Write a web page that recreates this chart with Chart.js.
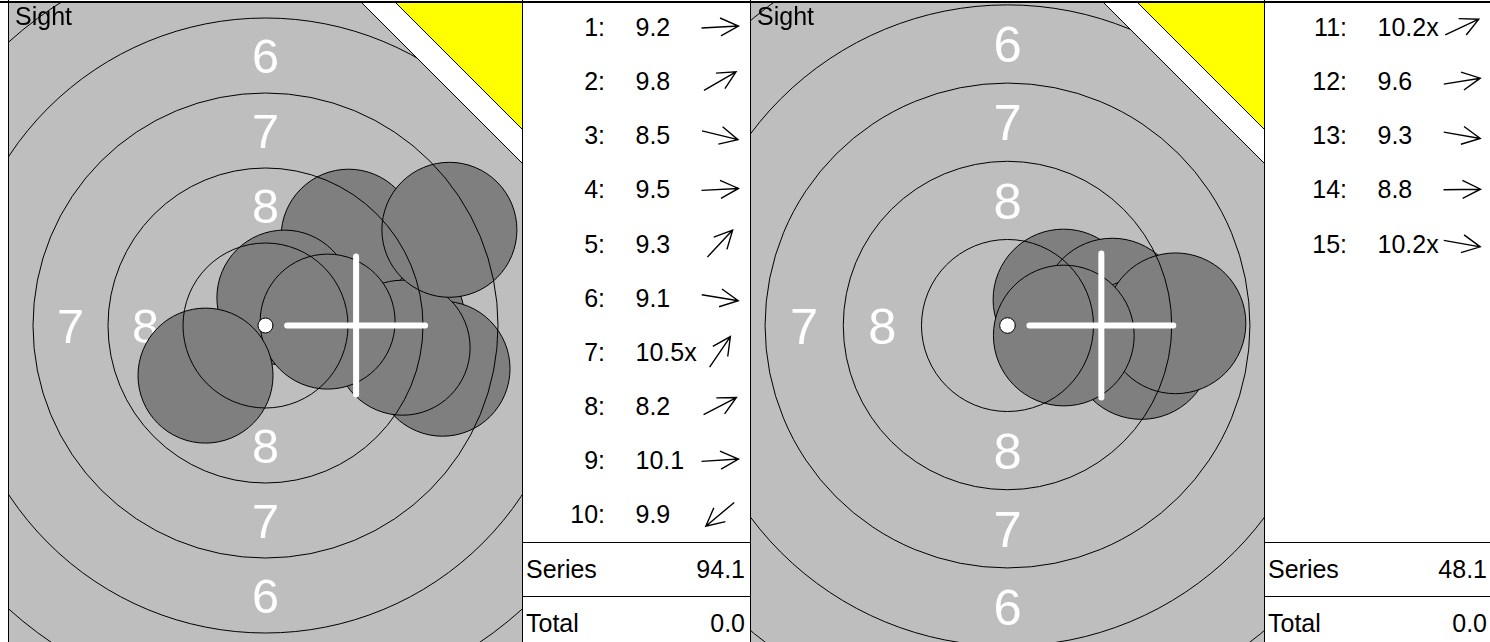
<!DOCTYPE html>
<html>
<head>
<meta charset="utf-8">
<title>Sight series</title>
<script src="https://cdn.jsdelivr.net/npm/chart.js@4.4.1/dist/chart.umd.min.js"></script>
<style>
html, body { margin: 0; padding: 0; width: 1490px; height: 642px; overflow: hidden; background: #fff; }
body { position: relative; font-family: "Liberation Sans", Arial, Helvetica, sans-serif; }
canvas, svg, .line { position: absolute; }
.line { background: #000; }
svg text { font-family: "Liberation Sans", Arial, Helvetica, sans-serif; font-size: 25px; fill: #000; }
</style>
</head>
<body>
<div class="line" style="left:0;top:1px;width:1490px;height:2px"></div>
<div class="line" style="left:8px;top:0;width:1px;height:642px"></div>
<canvas id="target1" style="left:9px;top:3px" width="513" height="645"></canvas>
<div class="line" style="left:522px;top:0;width:1px;height:642px"></div>
<svg id="list1" style="left:523px;top:0" width="227" height="642"></svg>
<div class="line" style="left:750px;top:0;width:1px;height:642px"></div>
<canvas id="target2" style="left:751px;top:3px" width="513" height="645"></canvas>
<div class="line" style="left:1264px;top:0;width:1px;height:642px"></div>
<svg id="list2" style="left:1265px;top:0" width="225" height="642"></svg>

<script>
// target geometry in mm (10 m air rifle face)
const ringRadii = [2.75, 5.25, 7.75, 10.25, 12.75, 15.25];
const ringLabels = [8, 7, 6];
const tenRadius = 0.25;
const pelletRadius = 2.25;
const crossArm = 2.3;

// first series: shots 1-10 (x/y in mm from centre, y up)
const shotNo1 = [1, 2, 3, 4, 5, 6, 7, 8, 9, 10];
const scores1 = ['9.2', '9.8', '8.5', '9.5', '9.3', '9.1', '10.5x', '8.2', '10.1', '9.9'];
const shotX1 = [4.39, 2.51, 5.90, 3.60, 2.77, 4.57, 0.63, 6.13, 2.07, -2.00];
const shotY1 = [0.23, 1.45, -1.44, 0.19, 2.96, -0.74, 0.93, 3.19, 0.13, -1.67];
const sight1 = [3.02, 0];
const total1 = '0.0';

// second series: shots 11-15
const shotNo2 = [11, 12, 13, 14, 15];
const scores2 = ['10.2x', '9.6', '9.3', '8.8', '10.2x'];
const shotX2 = [1.79, 3.35, 4.28, 5.37, 1.80];
const shotY2 = [0.83, 0.54, -0.75, 0.07, -0.32];
const sight2 = [3.0, 0];
const total2 = '0.0';

// half width of the visible face, mm
const view1 = 8.55;
const view2 = 8.2;

const FONT = '"Liberation Sans", Arial, Helvetica, sans-serif';

function mmPx(chart, mm) {
    const s = chart.scales.x;
    return Math.abs(s.getPixelForValue(mm) - s.getPixelForValue(0));
}

const targetFace = {
    id: 'targetFace',
    beforeDatasetsDraw(chart) {
        const { ctx, chartArea: a, scales: { x, y } } = chart;
        ctx.save();
        ctx.fillStyle = 'rgb(190,190,190)';
        ctx.fillRect(a.left, a.top, a.width, a.height);
        ctx.beginPath();
        ctx.rect(a.left, a.top, a.width, a.height);
        ctx.clip();
        const fs = mmPx(chart, 1.62);
        ctx.font = fs + 'px ' + FONT;
        ctx.fillStyle = '#fff';
        ctx.textAlign = 'center';
        ctx.textBaseline = 'alphabetic';
        ringLabels.forEach((n, i) => {
            const r = (ringRadii[i] + ringRadii[i + 1]) / 2;
            [[0, r], [0, -r], [-r, 0], [r, 0]].forEach(([dx, dy]) => {
                ctx.fillText(String(n), x.getPixelForValue(dx), y.getPixelForValue(dy) + fs * 0.358);
            });
        });
        ctx.restore();
    },
    afterDatasetsDraw(chart, args, opts) {
        const { ctx, chartArea: a, scales: { x, y } } = chart;
        const cx = x.getPixelForValue(0), cy = y.getPixelForValue(0);
        ctx.save();
        ctx.beginPath();
        ctx.rect(a.left, a.top, a.width, a.height);
        ctx.clip();

        ctx.strokeStyle = '#000';
        ctx.lineWidth = 1;
        ringRadii.forEach(r => {
            ctx.beginPath();
            ctx.arc(cx, cy, mmPx(chart, r), 0, Math.PI * 2);
            ctx.stroke();
        });

        // sight cross
        const sx = x.getPixelForValue(opts.sight[0]), sy = y.getPixelForValue(opts.sight[1]);
        const arm = mmPx(chart, crossArm);
        ctx.strokeStyle = '#fff';
        ctx.lineWidth = 6;
        ctx.lineCap = 'round';
        ctx.beginPath();
        ctx.moveTo(sx - arm, sy); ctx.lineTo(sx + arm, sy);
        ctx.moveTo(sx, sy - arm); ctx.lineTo(sx, sy + arm);
        ctx.stroke();

        // ten ring dot
        ctx.fillStyle = '#fff';
        ctx.strokeStyle = '#000';
        ctx.lineWidth = 1;
        ctx.beginPath();
        ctx.arc(cx, cy, mmPx(chart, tenRadius), 0, Math.PI * 2);
        ctx.fill();
        ctx.stroke();

        // corner flag
        [[160, '#fff'], [126, '#ff0']].forEach(([leg, col]) => {
            ctx.beginPath();
            ctx.moveTo(a.right - leg, a.top);
            ctx.lineTo(a.right, a.top);
            ctx.lineTo(a.right, a.top + leg);
            ctx.closePath();
            ctx.fillStyle = col;
            ctx.fill();
            ctx.beginPath();
            ctx.moveTo(a.right - leg, a.top);
            ctx.lineTo(a.right, a.top + leg);
            ctx.stroke();
        });

        ctx.fillStyle = '#000';
        ctx.font = '25px ' + FONT;
        ctx.textAlign = 'left';
        ctx.textBaseline = 'alphabetic';
        ctx.fillText(opts.label, a.left + 6, a.top + 22);
        ctx.restore();
    }
};

function makeTarget(id, xs, ys, half, sight) {
    const canvas = document.getElementById(id);
    const halfH = half * canvas.height / canvas.width;
    const rad = c => mmPx(c.chart, pelletRadius);
    return new Chart(canvas, {
        type: 'scatter',
        data: {
            datasets: [{
                data: xs.map((v, i) => ({ x: v, y: ys[i] })),
                backgroundColor: 'rgb(127,127,127)',
                borderColor: '#000',
                borderWidth: 1,
                pointRadius: rad,
                pointHoverRadius: rad
            }]
        },
        options: {
            responsive: false,
            animation: false,
            events: [],
            layout: { padding: 0 },
            scales: {
                x: { type: 'linear', min: -half, max: half, display: false },
                y: { type: 'linear', min: -halfH, max: halfH, display: false }
            },
            plugins: {
                legend: { display: false },
                tooltip: { enabled: false },
                targetFace: { sight: sight, label: 'Sight' }
            }
        },
        plugins: [targetFace]
    });
}

const NS = 'http://www.w3.org/2000/svg';
function el(parent, tag, attrs, text) {
    const e = document.createElementNS(NS, tag);
    for (const k in attrs) e.setAttribute(k, attrs[k]);
    if (text !== undefined) e.textContent = text;
    parent.appendChild(e);
    return e;
}

function buildList(id, nos, scores, xs, ys, total) {
    const svg = document.getElementById(id);
    const w = +svg.getAttribute('width');
    nos.forEach((n, i) => {
        const base = 36 + 54.15 * i;
        el(svg, 'text', { x: 82, y: base, 'text-anchor': 'end' }, n + ':');
        el(svg, 'text', { x: 112.5, y: base }, scores[i]);
        const deg = -Math.atan2(ys[i], xs[i]) * 180 / Math.PI;
        const g = el(svg, 'g', { transform: `translate(197,${base - 9}) rotate(${deg.toFixed(1)})` });
        el(g, 'path', { d: 'M-18.5 0 H18.5 M0.5 -9 L18.5 0 L0.5 9', stroke: '#000', 'stroke-width': 1.4, fill: 'none' });
    });
    const series = scores.reduce((s, v) => s + parseFloat(v), 0).toFixed(1);
    el(svg, 'line', { x1: 0, x2: w, y1: 542.5, y2: 542.5, stroke: '#000', 'stroke-width': 1 });
    el(svg, 'line', { x1: 0, x2: w, y1: 596.5, y2: 596.5, stroke: '#000', 'stroke-width': 1 });
    el(svg, 'text', { x: 3, y: 578, 'font-size': 26 }, 'Series');
    el(svg, 'text', { x: 222, y: 578, 'text-anchor': 'end', 'font-size': 26 }, series);
    el(svg, 'text', { x: 3, y: 632, 'font-size': 26 }, 'Total');
    el(svg, 'text', { x: 222, y: 632, 'text-anchor': 'end', 'font-size': 26 }, total);
}

makeTarget('target1', shotX1, shotY1, view1, sight1);
makeTarget('target2', shotX2, shotY2, view2, sight2);
buildList('list1', shotNo1, scores1, shotX1, shotY1, total1);
buildList('list2', shotNo2, scores2, shotX2, shotY2, total2);
</script>
</body>
</html>
